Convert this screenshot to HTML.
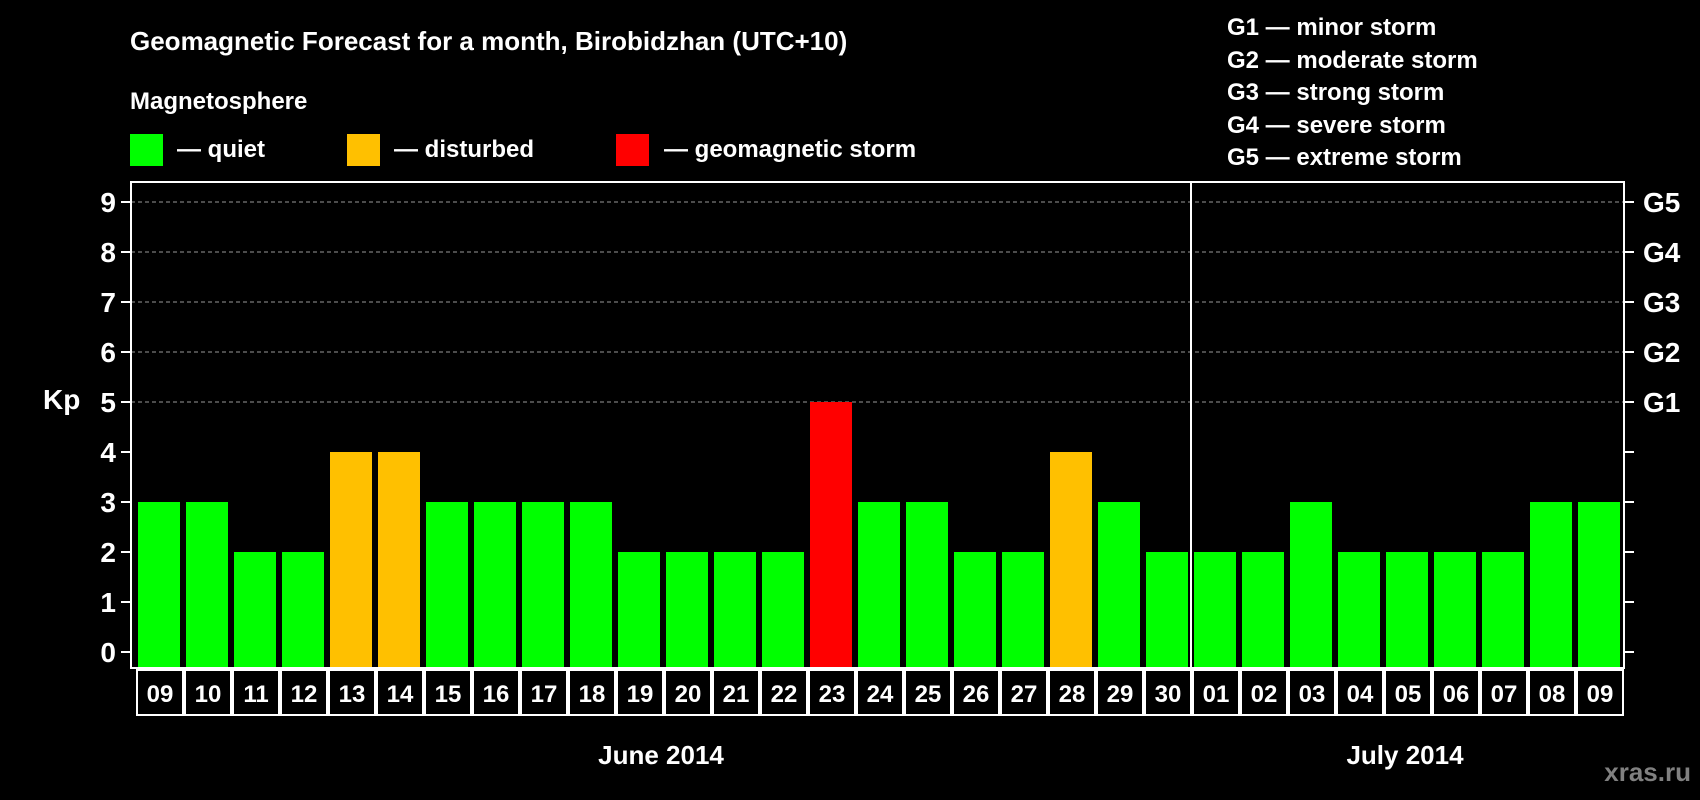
<!DOCTYPE html>
<html><head><meta charset="utf-8"><style>
html,body{margin:0;padding:0;background:#000;}
svg{display:block;font-family:"Liberation Sans",sans-serif;font-weight:bold;}
</style></head><body>
<svg id="chart" width="1700" height="800" viewBox="0 0 1700 800" xmlns="http://www.w3.org/2000/svg">
<rect width="1700" height="800" fill="#000"/>
<text x="130" y="50" fill="#fff" font-size="26">Geomagnetic Forecast for a month, Birobidzhan (UTC+10)</text>
<text x="130" y="109" fill="#fff" font-size="24">Magnetosphere</text>
<g><rect x="130" y="134" width="33" height="32" fill="#00ff00"/><text x="177" y="157" fill="#fff" font-size="24">— quiet</text></g>
<g><rect x="347" y="134" width="33" height="32" fill="#ffc000"/><text x="394" y="157" fill="#fff" font-size="24">— disturbed</text></g>
<g><rect x="616" y="134" width="33" height="32" fill="#ff0000"/><text x="664" y="157" fill="#fff" font-size="24">— geomagnetic storm</text></g>
<g fill="#fff" font-size="24">
<text x="1227" y="35">G1 — minor storm</text>
<text x="1227" y="68">G2 — moderate storm</text>
<text x="1227" y="100">G3 — strong storm</text>
<text x="1227" y="133">G4 — severe storm</text>
<text x="1227" y="165">G5 — extreme storm</text>
</g>
<text x="43" y="409" fill="#fff" font-size="28">Kp</text>
<g id="grid"></g><g id="bars"></g><g id="axes"></g>
<text x="661" y="764" fill="#fff" font-size="26" text-anchor="middle">June 2014</text>
<text x="1405" y="764" fill="#fff" font-size="26" text-anchor="middle">July 2014</text>
<text x="1691" y="781" fill="#808080" font-size="26" text-anchor="end">xras.ru</text>
</svg>
<script>
const days=["09","10","11","12","13","14","15","16","17","18","19","20","21","22","23","24","25","26","27","28","29","30","01","02","03","04","05","06","07","08","09"];
const kp=[3,3,2,2,4,4,3,3,3,3,2,2,2,2,5,3,3,2,2,4,3,2,2,2,3,2,2,2,2,3,3];
const yTicks=[0,1,2,3,4,5,6,7,8,9];
const gLabels=["G1","G2","G3","G4","G5"];
const gLevels=[5,6,7,8,9];
const NS="http://www.w3.org/2000/svg";
const L=131,R=1624,T=182,B=668,x0=135,band=48;
const y=v=>652-v*50;
const x=i=>x0+i*band;
function mk(tag,attrs,parent){const e=document.createElementNS(NS,tag);for(const k in attrs)e.setAttribute(k,attrs[k]);parent.appendChild(e);return e;}
const grid=document.getElementById('grid'),bars=document.getElementById('bars'),axes=document.getElementById('axes');
gLevels.forEach((v,i)=>{
 const l=mk('line',{x1:L,x2:R,y1:y(v),y2:y(v),stroke:'#999','stroke-dasharray':'4,3','stroke-width':1},grid);
 
 
 const t=mk('text',{x:1643,y:y(v)+10,fill:'#fff','font-size':28},axes);t.textContent=gLabels[i];
 
 
});
const col=v=>v>=5?'#ff0000':(v>=4?'#ffc000':'#00ff00');
kp.forEach((v,i)=>{
 const r=mk('rect',{x:x(i)+3,y:y(v),width:42,height:y(0)-y(v)+15,fill:col(v)},bars);
 
 
 const c=mk('rect',{x:x(i)+2,y:B+2,width:band-2,height:45,fill:'none',stroke:'#fff','stroke-width':2},axes);
 
 
 const t=mk('text',{x:x(i)+band/2+1,y:B+34,fill:'#fff','font-size':24,'text-anchor':'middle'},axes);t.textContent=days[i];
 
 
});
const f=mk('rect',{x:L,y:T,width:R-L,height:B-T,fill:'none',stroke:'#fff','stroke-width':2},axes);


yTicks.forEach(v=>{
 mk('line',{x1:L-10,x2:L,y1:y(v),y2:y(v),stroke:'#fff','stroke-width':2},axes);
 mk('line',{x1:R,x2:R+10,y1:y(v),y2:y(v),stroke:'#fff','stroke-width':2},axes);
 const t=mk('text',{x:116,y:y(v)+10,fill:'#fff','font-size':28,'text-anchor':'end'},axes);t.textContent=v;
 
 
});
const sep=mk('line',{x1:x(22),x2:x(22),y1:T,y2:B+47,stroke:'#fff','stroke-width':2},axes);


</script>
</body></html>
